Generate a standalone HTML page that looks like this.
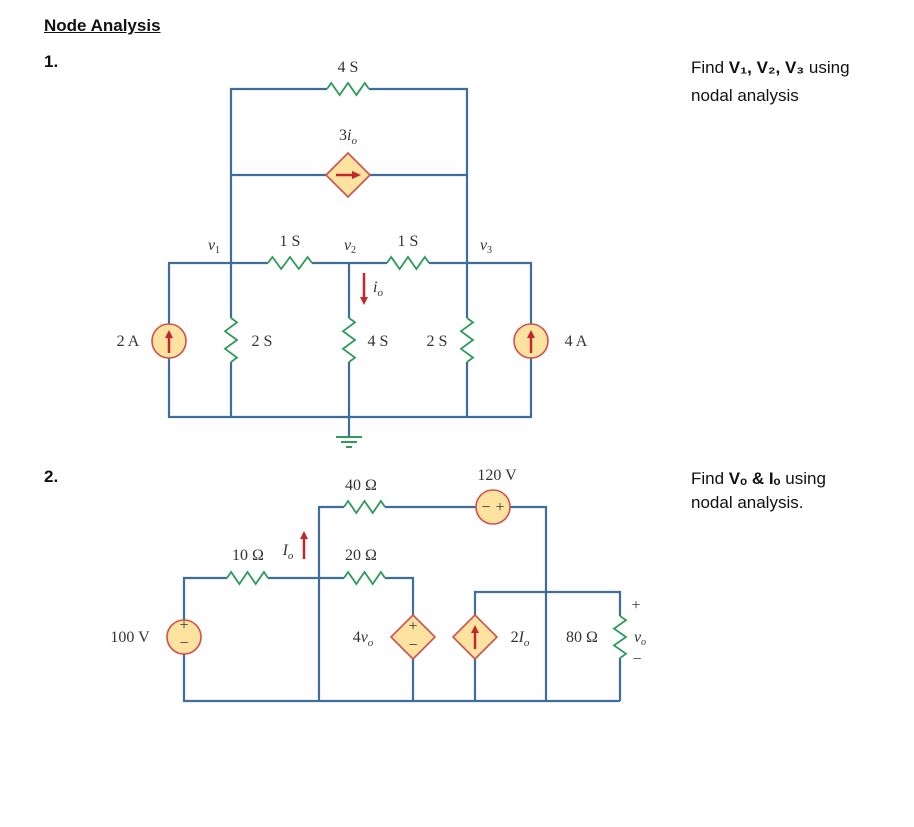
<!DOCTYPE html>
<html><head><meta charset="utf-8">
<style>
body{margin:0;background:#fff;width:914px;height:827px;overflow:hidden;font-family:"Liberation Sans",sans-serif}
.t{position:absolute;font-family:"Liberation Sans",sans-serif;font-size:17px;color:#111;line-height:1}
svg{position:absolute;left:0;top:0}
svg text{font-family:"Liberation Serif",serif;font-size:16px;fill:#333}
</style></head><body>
<div class="t" style="left:44px;top:17px;font-weight:bold;text-decoration:underline">Node Analysis</div>
<div class="t" style="left:44px;top:53px;font-weight:bold">1.</div>
<div class="t" style="left:44px;top:468px;font-weight:bold">2.</div>
<div class="t" style="left:691px;top:54px;line-height:28px;font-size:17px">Find <b>V₁, V₂, V₃</b> using<br>nodal analysis</div>
<div class="t" style="left:691px;top:467px;line-height:24px;font-size:17px">Find <b>Vₒ &amp; Iₒ</b> using<br>nodal analysis.</div>
<svg id="s" width="914" height="827"></svg>
<script>
const S=document.getElementById('s');const NS='http://www.w3.org/2000/svg';
const W='#3f6d9c',G='#2f9a5c',R='#d0504a',F='#fde2a0',A='#c4262e';
function el(t,a,name){const e=document.createElementNS(NS,t);for(const k in a)e.setAttribute(k,a[k]);


S.appendChild(e);return e;}
function wire(pts,n){el('polyline',{points:pts,fill:'none',stroke:W,'stroke-width':2.2},n||'wire');}
function resH(x1,x2,y,n){let k=5,d=(x2-x1)/(k*2),q=[x1+','+y];for(let i=1;i<=k*2-1;i+=2){q.push((x1+d*i)+','+(y-(((i-1)/2)%2?-6:6)));}q.push(x2+','+y);
 el('polyline',{points:q.join(' '),fill:'none',stroke:G,'stroke-width':1.8},n);}
function resV(x,y1,y2,n){let k=5,d=(y2-y1)/(k*2),q=[x+','+y1];for(let i=1;i<=k*2-1;i+=2){q.push((x+(((i-1)/2)%2?-6:6))+','+(y1+d*i));}q.push(x+','+y2);
 el('polyline',{points:q.join(' '),fill:'none',stroke:G,'stroke-width':1.8},n);}
function circ(x,y,n){el('circle',{cx:x,cy:y,r:17,fill:F,stroke:R,'stroke-width':1.6},n);}
function diam(x,y,n){el('polygon',{points:`${x-22},${y} ${x},${y-22} ${x+22},${y} ${x},${y+22}`,fill:F,stroke:R,'stroke-width':1.6},n);}
function arrUp(x,y1,y2,n){el('line',{x1:x,y1:y2,x2:x,y2:y1+6,stroke:A,'stroke-width':2.5},n);el('polygon',{points:`${x-4},${y1+8} ${x+4},${y1+8} ${x},${y1}`,fill:A},n+'-head');}
function arrDn(x,y1,y2,n){el('line',{x1:x,y1:y1,x2:x,y2:y2-6,stroke:A,'stroke-width':2.5},n);el('polygon',{points:`${x-4},${y2-8} ${x+4},${y2-8} ${x},${y2}`,fill:A},n+'-head');}
function txt(x,y,s,n,extra){const e=el('text',Object.assign({x:x,y:y,'text-anchor':'middle'},extra||{}),n);e.innerHTML=s;return e;}

/* Circuit 1 */
wire('231,263 231,89 327,89','wire-top-left');wire('369,89 467,89 467,263','wire-top-right');
wire('231,175 326,175','wire-dep-left');wire('370,175 467,175','wire-dep-right');
wire('169,324 169,263 268,263','wire-mid-left');wire('312,263 387,263','wire-mid-center');wire('429,263 531,263 531,324','wire-mid-right');
wire('169,358 169,417 531,417 531,358','wire-bottom');
wire('231,263 231,318','w');wire('231,362 231,417','w');wire('467,263 467,318','w');wire('467,362 467,417','w');
wire('349,263 349,318','w');wire('349,362 349,437','wire-ground');
el('line',{x1:336,y1:437,x2:362,y2:437,stroke:G,'stroke-width':2},'ground');
el('line',{x1:341,y1:442,x2:357,y2:442,stroke:G,'stroke-width':2},'ground');
el('line',{x1:346,y1:447,x2:352,y2:447,stroke:G,'stroke-width':2},'ground');
resH(327,369,89,'resistor-4s-top');resH(268,312,263,'resistor-1s-left');resH(387,429,263,'resistor-1s-right');
resV(231,318,362,'resistor-2s-left');resV(349,318,362,'resistor-4s');resV(467,318,362,'resistor-2s-right');
diam(348,175,'dependent-source-3io');
el('line',{x1:336,y1:175,x2:354,y2:175,stroke:A,'stroke-width':2.5},'dep-arrow');el('polygon',{points:'352,171 352,179 361,175',fill:A},'dep-arrow-head');
circ(169,341,'source-2a');arrUp(169,330,353,'arrow-2a');
circ(531,341,'source-4a');arrUp(531,330,353,'arrow-4a');
arrDn(364,273,305,'arrow-io');
txt(348,72,'4 S','label-4s-top');txt(348,140,'3<tspan font-style="italic">i</tspan><tspan font-style="italic" font-size="11" dy="4">o</tspan>','label-3io');
txt(214,250,'<tspan font-style="italic">v</tspan><tspan font-size="10" dy="3">1</tspan>','label-v1');
txt(290,246,'1 S','label-1s-left');txt(350,250,'<tspan font-style="italic">v</tspan><tspan font-size="10" dy="3">2</tspan>','label-v2');
txt(408,246,'1 S','label-1s-right');txt(486,250,'<tspan font-style="italic">v</tspan><tspan font-size="10" dy="3">3</tspan>','label-v3');
txt(378,292,'<tspan font-style="italic">i</tspan><tspan font-style="italic" font-size="11" dy="4">o</tspan>','label-io');
txt(128,346,'2 A','label-2a');txt(262,346,'2 S','label-2s-left');txt(378,346,'4 S','label-4s');txt(437,346,'2 S','label-2s-right');txt(576,346,'4 A','label-4a');

/* Circuit 2 */
wire('184,620 184,578 227,578','w');wire('268,578 344,578','w');wire('385,578 413,578 413,615','w');
wire('319,701 319,507 344,507','w');wire('385,507 476,507','w');wire('510,507 546,507 546,701','w');
wire('475,615 475,592 620,592 620,616','w');wire('620,658 620,701','w');
wire('184,654 184,701 620,701','wire-bottom-2');wire('413,659 413,701','w');wire('475,659 475,701','w');
resH(227,268,578,'resistor-10');resH(344,385,578,'resistor-20');resH(344,385,507,'resistor-40');resV(620,616,658,'resistor-80');
circ(184,637,'source-100v');txt(184,630,'+','plus',{fill:R,'font-size':12});txt(184,648,'−','minus',{fill:R,'font-size':12});
circ(493,507,'source-120v');txt(486,512,'−','minus',{fill:R,'font-size':13});txt(500,512,'+','plus',{fill:R,'font-size':13});
diam(413,637,'dependent-source-4vo');txt(413,631,'+','plus',{fill:R,'font-size':11});txt(413,650,'−','minus',{fill:R,'font-size':11});
diam(475,637,'dependent-source-2io');arrUp(475,625,649,'arrow-2io');
arrUp(304,531,559,'arrow-Io');
txt(130,642,'100 V','label-100v');txt(497,480,'120 V','label-120v');txt(361,490,'40 Ω','label-40');
txt(248,560,'10 Ω','label-10');txt(288,555,'<tspan font-style="italic">I</tspan><tspan font-style="italic" font-size="11" dy="4">o</tspan>','label-Io');
txt(361,560,'20 Ω','label-20');txt(363,642,'4<tspan font-style="italic">v</tspan><tspan font-style="italic" font-size="11" dy="4">o</tspan>','label-4vo');
txt(520,642,'2<tspan font-style="italic">I</tspan><tspan font-style="italic" font-size="11" dy="4">o</tspan>','label-2Io');
txt(582,642,'80 Ω','label-80');txt(636,610,'+','label-plus');txt(640,642,'<tspan font-style="italic">v</tspan><tspan font-style="italic" font-size="10" dy="3">o</tspan>','label-vo');txt(637,664,'−','label-minus');
</script>
</body></html>
